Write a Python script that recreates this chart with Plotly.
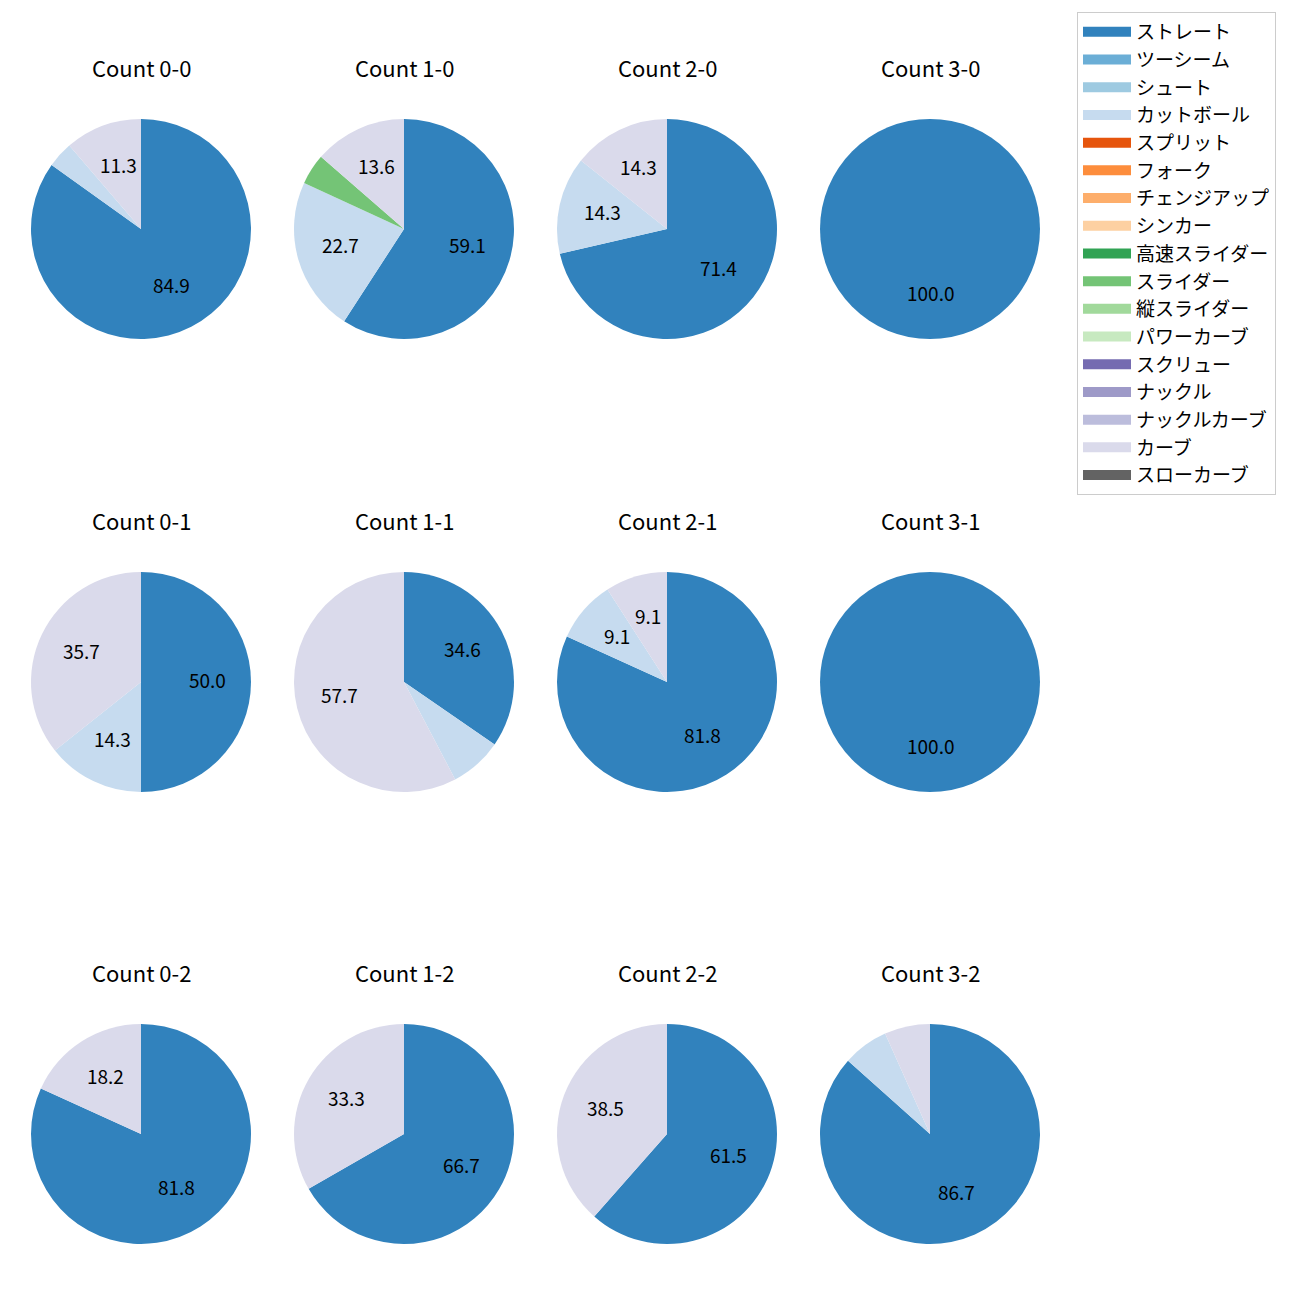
import math
import plotly.graph_objects as go

W, H = 1300, 1300
OFF = 8  # page body margin offset
FONT = "Noto Sans CJK JP"

pitch_types = ["ストレート", "ツーシーム", "シュート", "カットボール", "スプリット", "フォーク",
               "チェンジアップ", "シンカー", "高速スライダー", "スライダー", "縦スライダー",
               "パワーカーブ", "スクリュー", "ナックル", "ナックルカーブ", "カーブ", "スローカーブ"]
pitch_colors = ["#3182bd", "#6baed6", "#9ecae1", "#c6dbef", "#e6550d", "#fd8d3c",
                "#fdae6b", "#fdd0a2", "#31a354", "#74c476", "#a1d99b", "#c7e9c0",
                "#756bb1", "#9e9ac8", "#bcbddc", "#dadaeb", "#636363"]

counts = ["0-0", "1-0", "2-0", "3-0",
          "0-1", "1-1", "2-1", "3-1",
          "0-2", "1-2", "2-2", "3-2"]

# percentage shares per count (same order as counts)
straight = [84.9, 59.1, 71.4, 100.0, 50.0, 34.6, 81.8, 100.0, 81.8, 66.7, 61.5, 86.7]
cutter   = [3.8, 22.7, 14.3, 0.0, 14.3, 7.7, 9.1, 0.0, 0.0, 0.0, 0.0, 6.7]
slider   = [0.0, 4.5, 0.0, 0.0, 0.0, 0.0, 0.0, 0.0, 0.0, 0.0, 0.0, 0.0]
curve    = [11.3, 13.6, 14.3, 0.0, 35.7, 57.7, 9.1, 0.0, 18.2, 33.3, 38.5, 6.7]

series = {"ストレート": straight, "カットボール": cutter, "スライダー": slider, "カーブ": curve}
color_of = dict(zip(pitch_types, pitch_colors))

# layout geometry (pixels, page coordinates)
col_x = [141, 404, 667, 930]
row_y = [229, 682, 1134]
R = 110
LABEL_MIN = 8.0

fig = go.Figure()
annotations = []

for k, cnt in enumerate(counts):
    r_i, c_i = divmod(k, 4)
    cx, cy = col_x[c_i] - OFF, row_y[r_i] - OFF
    labels = [n for n in series if series[n][k] > 0]
    vals = [series[n][k] for n in labels]
    fig.add_trace(go.Pie(
        labels=labels, values=vals, sort=False, direction="clockwise", rotation=0,
        marker=dict(colors=[color_of[n] for n in labels], line=dict(width=0)),
        textinfo="none", showlegend=False, hoverinfo="label+percent",
        domain=dict(x=[(cx - R) / W, (cx + R) / W], y=[1 - (cy + R) / H, 1 - (cy - R) / H]),
    ))
    annotations.append(dict(text=f"Count {cnt}", x=cx / W, y=1 - (cy - 162) / H,
                            xref="paper", yref="paper", showarrow=False,
                            xanchor="center", yanchor="middle",
                            font=dict(family=FONT, size=22, color="black")))
    total = sum(vals)
    cum = 0.0
    for v in vals:
        mid = cum + v / 2
        cum += v
        if v < LABEL_MIN:
            continue
        ang = math.radians(90 - 360 * mid / total)
        px = cx + 0.6 * R * math.cos(ang)
        py = cy - 0.6 * R * math.sin(ang) - 3
        annotations.append(dict(text=f"{v:.1f}", x=px / W, y=1 - py / H,
                                xref="paper", yref="paper", showarrow=False,
                                xanchor="center", yanchor="middle",
                                font=dict(family=FONT, size=19, color="black")))

for name, col in zip(pitch_types, pitch_colors):
    fig.add_trace(go.Scatter(x=[None], y=[None], mode="lines", name=name,
                             legendgroup=name, line=dict(color=col, width=13)))

fig.update_layout(
    width=W, height=H,
    margin=dict(l=0, r=0, t=0, b=0),
    paper_bgcolor="white", plot_bgcolor="white",
    xaxis=dict(visible=False), yaxis=dict(visible=False),
    annotations=annotations,
    showlegend=True,
    legend=dict(x=(1077 - OFF) / W, y=1 - (12 - OFF) / H, xanchor="left", yanchor="top",
                bordercolor="#cccccc", borderwidth=1, bgcolor="white",
                font=dict(family=FONT, size=19, color="black"),
                tracegroupgap=0, itemwidth=48),
    font=dict(family=FONT),
)

fig.write_html("out.html")
